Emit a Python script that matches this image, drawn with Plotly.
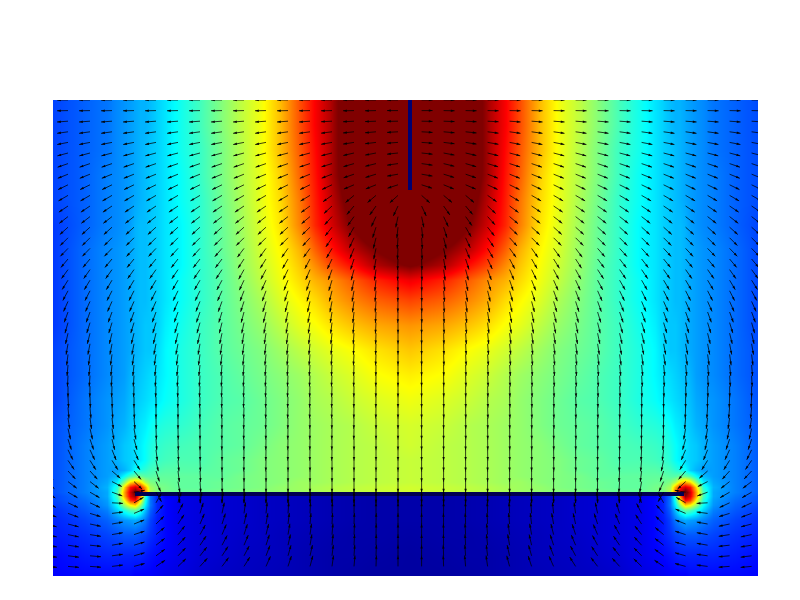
import math
import plotly.graph_objects as go

# ---------- scalar field (left half, mirrored about the rod) ----------
centre_x = 409.8
field_x = [53, 85, 107, 117, 124, 130, 135, 140, 145, 150, 157, 165, 180, 200, 220, 240, 260, 280, 300, 315, 330, 350, 375, 409.8]
field_y = [100, 125, 150, 175, 200, 225, 250, 265, 280, 300, 325, 350, 375, 400, 425, 445, 460, 470, 476, 482, 487, 492, 496, 500, 505, 510, 520, 535, 555, 576]
field_rows = [
 [.19,.22,.24,.26,.27,.28,.29,.30,.30,.31,.33,.35,.39,.44,.50,.56,.61,.69,.80,.88,.95,1.08,1.2,1.4],
 [.19,.22,.24,.26,.27,.28,.29,.30,.30,.31,.33,.35,.39,.44,.50,.56,.61,.69,.80,.88,.95,1.08,1.2,1.4],
 [.19,.22,.24,.26,.27,.28,.29,.30,.31,.32,.33,.35,.39,.43,.49,.55,.61,.69,.79,.87,.95,1.08,1.2,1.35],
 [.19,.22,.25,.26,.27,.28,.29,.30,.31,.32,.33,.35,.38,.43,.49,.55,.60,.67,.78,.86,.95,1.07,1.2,1.4],
 [.19,.22,.25,.26,.27,.28,.29,.30,.31,.32,.33,.35,.38,.42,.48,.54,.60,.66,.76,.85,.93,1.04,1.15,1.25],
 [.18,.22,.25,.26,.27,.28,.30,.31,.31,.32,.33,.35,.37,.42,.47,.53,.59,.65,.75,.84,.91,1.0,1.1,1.18],
 [.18,.23,.26,.27,.28,.29,.30,.31,.31,.32,.33,.35,.37,.42,.47,.52,.58,.63,.70,.78,.85,.93,1.0,1.08],
 [.18,.23,.26,.27,.28,.29,.30,.31,.31,.32,.33,.35,.37,.42,.46,.52,.57,.62,.68,.74,.80,.86,.95,1.01],
 [.18,.23,.26,.27,.28,.29,.30,.31,.31,.32,.33,.35,.38,.42,.46,.51,.56,.61,.66,.70,.73,.78,.84,.89],
 [.18,.23,.26,.27,.28,.29,.30,.31,.31,.32,.33,.35,.38,.42,.46,.50,.54,.59,.63,.66,.70,.74,.78,.81],
 [.18,.23,.26,.27,.28,.29,.30,.31,.32,.32,.33,.36,.39,.43,.46,.49,.52,.56,.60,.62,.65,.68,.71,.73],
 [.19,.23,.26,.27,.28,.29,.30,.31,.32,.32,.34,.37,.40,.43,.46,.48,.50,.53,.56,.58,.60,.62,.65,.68],
 [.19,.23,.26,.27,.28,.30,.31,.32,.33,.34,.35,.37,.40,.43,.45,.47,.49,.51,.53,.55,.57,.59,.62,.64],
 [.19,.24,.27,.28,.29,.31,.32,.33,.34,.35,.36,.38,.40,.43,.45,.46,.48,.50,.52,.54,.55,.57,.59,.61],
 [.20,.24,.27,.29,.30,.32,.33,.35,.36,.38,.40,.41,.42,.44,.46,.47,.48,.50,.52,.53,.54,.55,.57,.585],
 [.20,.25,.28,.30,.32,.33,.35,.36,.38,.40,.42,.43,.44,.45,.46,.47,.49,.51,.52,.53,.54,.55,.56,.58],
 [.20,.25,.28,.30,.32,.33,.34,.36,.38,.41,.43,.44,.45,.45,.47,.48,.50,.51,.52,.53,.54,.55,.56,.57],
 [.20,.25,.28,.28,.30,.33,.38,.40,.42,.44,.45,.46,.46,.46,.47,.48,.50,.51,.52,.53,.54,.55,.56,.57],
 [.20,.25,.28,.31,.38,.45,.48,.48,.46,.46,.47,.47,.47,.47,.47,.49,.50,.51,.52,.53,.54,.55,.56,.57],
 [.20,.25,.29,.36,.51,.66,.71,.66,.55,.50,.48,.48,.47,.47,.48,.49,.50,.51,.53,.53,.54,.55,.56,.57],
 [.20,.25,.30,.41,.66,.86,.92,.86,.71,.54,.50,.49,.47,.47,.48,.49,.50,.52,.53,.54,.55,.56,.57,.58],
 [.20,.25,.29,.44,.71,.92,1.05,.92,.75,.56,.50,.49,.48,.48,.49,.50,.51,.52,.53,.54,.55,.56,.57,.58],
 [.19,.24,.29,.44,.70,.90,.98,.75,.42,.24,.16,.12,.10,.085,.075,.07,.06,.055,.05,.045,.04,.035,.03,.03],
 [.19,.23,.28,.41,.62,.82,.875,.65,.40,.24,.16,.13,.10,.085,.075,.07,.06,.055,.05,.045,.04,.035,.03,.03],
 [.18,.22,.27,.38,.52,.62,.66,.52,.36,.24,.16,.13,.10,.085,.075,.07,.06,.055,.05,.045,.04,.035,.03,.03],
 [.17,.21,.25,.33,.40,.45,.47,.41,.31,.22,.16,.13,.10,.085,.075,.07,.06,.055,.05,.045,.04,.035,.03,.03],
 [.16,.19,.22,.25,.27,.28,.29,.27,.24,.19,.15,.13,.10,.085,.075,.07,.06,.055,.05,.045,.04,.035,.03,.03],
 [.15,.17,.19,.20,.21,.21,.21,.20,.19,.17,.15,.13,.10,.085,.075,.065,.06,.05,.045,.04,.035,.03,.03,.025],
 [.13,.15,.16,.16,.16,.16,.16,.16,.15,.14,.13,.12,.10,.08,.07,.06,.055,.05,.04,.035,.03,.03,.025,.02],
 [.125,.13,.13,.13,.13,.13,.12,.12,.12,.12,.11,.10,.09,.07,.06,.055,.05,.045,.04,.035,.03,.025,.02,.02],
]

# ---------- arrow tilt in degrees, one list per column, one value per row ----------
# 0 = pointing away from the rod, 90 = down, 180 = towards the rod, 270 = up
arrow_x = [46, 68, 90, 112, 134, 156, 178, 200, 222, 244, 266, 288, 310, 332, 354, 376, 398]
arrow_y = [100 + 10.6 * k for k in range(45)]
top = [0, 1, 4, 8, 11, 15, 19, 22, 26, 30, 34, 38, 42, 45]
tilt_columns = [
 top + [46,50,54,58,62,66,70,73,76,79,82,85,87,90,93,95,98,102,107,114,122,130,140,148,155,161,165,168,171,173,175],
 top + [46,50,54,58,62,66,70,74,77,80,83,85,87,90,93,95,99,103,108,116,124,133,143,150,155,160,165,168,171,173,175],
 top + [46,50,55,59,63,66,70,73,76,79,82,84,86,89,92,95,98,103,109,115,122,132,142,150,155,163,168,171,174,175,176],
 top + [46,50,55,59,63,66,70,73,76,79,82,84,86,88,91,94,97,100,104,112,122,139,153,160,177,187,190,190,190,188,187],
 top + [47,51,55,59,63,66,70,73,76,79,81,84,86,88,90,92,95,100,106,113,122,130,137,190,210,203,202,198,197,196,195],
 top + [47,51,55,59,63,66,70,73,76,79,81,84,86,88,90,90,91,92,94,97,102,108,115,120,241,229,224,220,218,216,214],
 top + [48,52,56,60,64,67,70,73,76,79,82,84,86,88,89,90,90,91,92,93,95,97,100,100,253,243,237,232,228,226,224],
 top + [48,52,56,60,64,68,71,74,77,80,82,84,86,87,88,89,89,90,90,91,92,93,94,92,260,253,247,241,236,232,228],
 top + [49,53,57,62,66,70,73,76,78,81,83,85,86,87,88,88,89,89,89,90,90,91,91,90,264,258,252,247,242,237,233],
 top + [53,57,61,65,69,72,75,78,80,82,84,85,86,87,87,88,88,88,89,89,89,90,90,90,266,262,257,252,247,242,238],
 top + [54,58,62,66,70,73,76,79,81,83,84,85,86,87,88,88,88,89,89,89,89,90,90,90,268,264,260,256,252,249,246],
 top + [55,60,64,68,72,75,78,80,82,84,85,86,87,87,88,88,89,89,89,89,90,90,90,90,269,266,263,260,257,254,252],
 [0,1,4,8,11,15,18,22,26,31,36,40,44,48,54,62,67,71,74,77,79,81,83,84,85,86,87,88,88,88,89,89,89,89,90,90,90,90,269,267,265,262,260,257,255],
 [0,1,3,7,10,14,17,21,25,35,43,48,52,56,60,65,70,73,76,79,81,83,84,85,86,87,87,88,88,88,89,89,89,89,90,90,90,90,270,268,267,265,264,263,262],
 [0,1,3,6,9,13,16,19,23,40,50,55,60,65,68,72,75,78,80,82,84,85,86,87,87,88,88,89,89,89,89,89,90,90,90,90,90,90,270,269,268,267,267,266,265],
 [0,1,2,5,7,11,14,17,22,40,55,65,72,76,78,80,82,84,85,86,87,87,88,88,88,89,89,89,89,89,90,90,90,90,90,90,90,90,270,270,269,269,269,268,268],
 [0,0,1,3,4,6,8,10,18,42,65,78,84,86,87,88,88,89,89,89,89,90,90,90,90,90,90,90,90,90,90,90,90,90,90,90,90,90,270,270,270,270,270,270,270],
]
arrow_length = 11

plate_x = [135, 684]
plate_y = [494, 494]
rod_x = [410, 410]
rod_y = [100, 190]

jet = [[0, "#00008f"], [.125, "#0000ff"], [.375, "#00ffff"], [.625, "#ffff00"], [.875, "#ff0000"], [1, "#800000"]]

# ---------- build ----------
full_x = field_x + [2 * centre_x - x for x in reversed(field_x[:-1])]
full_z = [row + row[-2::-1] for row in field_rows]

fig = go.Figure()
fig.add_trace(go.Heatmap(x=full_x, y=field_y, z=full_z, zmin=0, zmax=1, colorscale=jet,
                         zsmooth="best", showscale=False, hoverinfo="skip"))

sx, sy, hx, hy, ha = [], [], [], [], []
for side in (-1, 1):
    for col, x in enumerate(arrow_x):
        tail_x = x if side < 0 else 2 * centre_x - x
        for k, y in enumerate(arrow_y):
            t = math.radians(tilt_columns[col][k])
            dx, dy = side * math.cos(t), math.sin(t)
            end_x, end_y = tail_x + arrow_length * dx, y + arrow_length * dy
            sx += [tail_x, end_x, None]
            sy += [y, end_y, None]
            hx.append(end_x)
            hy.append(end_y)
            ha.append(math.degrees(math.atan2(dx, -dy)))

fig.add_trace(go.Scatter(x=plate_x, y=plate_y, mode="lines", line=dict(color="#000050", width=4), hoverinfo="skip"))
fig.add_trace(go.Scatter(x=rod_x, y=rod_y, mode="lines", line=dict(color="#000070", width=4), hoverinfo="skip"))
fig.add_trace(go.Scatter(x=sx, y=sy, mode="lines", line=dict(color="rgba(0,0,0,0.75)", width=1), hoverinfo="skip"))
fig.add_trace(go.Scatter(x=hx, y=hy, mode="markers", hoverinfo="skip",
                         marker=dict(symbol="arrow", size=4, angle=ha, color="rgba(0,0,0,0.9)", line=dict(width=0))))

fig.update_layout(
    width=800, height=600, showlegend=False, paper_bgcolor="white", plot_bgcolor="white",
    margin=dict(l=53, r=42, t=100, b=24, pad=0),
    xaxis=dict(range=[53, 758], visible=False, showgrid=False, zeroline=False),
    yaxis=dict(range=[576, 100], visible=False, showgrid=False, zeroline=False),
)
fig.write_html("out.html", config={"displayModeBar": False}, post_script="document.body.style.margin='0';")
